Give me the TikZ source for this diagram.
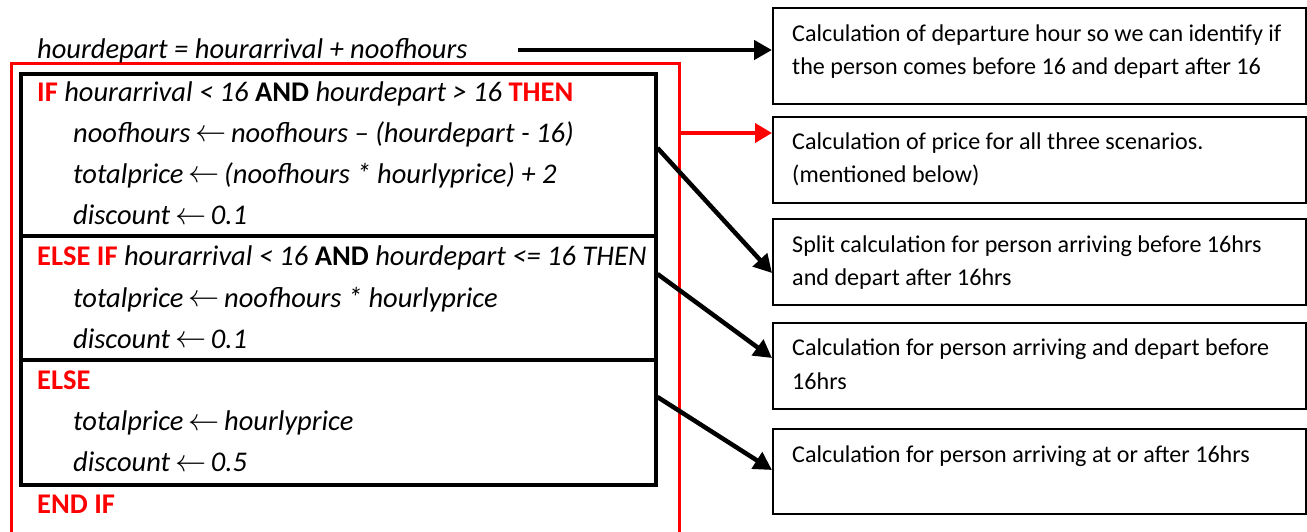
\documentclass[tikz,border=0pt]{standalone}
\usepackage{fontspec}
\setmainfont{Carlito}
\usetikzlibrary{arrows.meta}
\definecolor{kred}{RGB}{255,0,0}
\begin{document}
\begin{tikzpicture}[x=1pt,y=-1pt,
  code/.style={anchor=base west,inner sep=0pt,font=\fontsize{28.5}{32}\selectfont\itshape},
  note/.style={anchor=base west,inner sep=0pt,font=\fontsize{24.1}{28}\selectfont},
  lbox/.style={draw=black,line width=3.5pt},
  rbox/.style={draw=black,line width=2pt},
  redframe/.style={draw=kred,line width=3pt},
  blk/.style={draw=black,line width=4.5pt,-{Triangle[length=18pt,width=19pt]}},
  redarr/.style={draw=kred,line width=4pt,-{Triangle[length=17pt,width=19pt]}}]
\newcommand{\KW}[1]{{\upshape\bfseries\color{kred}#1}}
\newcommand{\BK}[1]{{\upshape\bfseries #1}}
\newcommand{\la}{\,\raisebox{0.5pt}{\scalebox{1.25}{$\leftarrow$}}\,}
\useasboundingbox (0,0) rectangle (1307,531);
\begin{scope}
\clip (0,0) rectangle (1307,531);
% red frame (open at bottom)
\draw[redframe] (11,545) -- (11,63.5) -- (679,63.5) -- (679,545);
\end{scope}
% left black boxes
\node[lbox,anchor=north west,minimum width=635pt,minimum height=162pt,inner sep=0pt] (lb1) at (19,72) {};
\node[lbox,anchor=north west,minimum width=635pt,minimum height=124pt,inner sep=0pt] (lb2) at (19,234) {};
\node[lbox,anchor=north west,minimum width=635pt,minimum height=125pt,inner sep=0pt] (lb3) at (19,358) {};
% code text
\node[code] (eq) at (37,58) {hourdepart = hourarrival + noofhours};
\node[code] (l1) at (37,101) {\KW{IF} hourarrival < 16 \BK{AND} hourdepart > 16 \KW{THEN}};
\node[code] (l2) at (73,142.2) {noofhours\la noofhours – (hourdepart - 16)};
\node[code] (l3) at (73,183.4) {totalprice\la (noofhours * hourlyprice) + 2};
\node[code] (l4) at (73,224.6) {discount\la 0.1};
\node[code] (l5) at (37,265.8) {\KW{ELSE IF} hourarrival < 16 \BK{AND} hourdepart <= 16 THEN};
\node[code] (l6) at (73,307) {totalprice\la noofhours * hourlyprice};
\node[code] (l7) at (73,348.2) {discount\la 0.1};
\node[code] (l8) at (37,389.4) {\KW{ELSE}};
\node[code] (l9) at (73,430.6) {totalprice\la hourlyprice};
\node[code] (l10) at (73,471.8) {discount\la 0.5};
\node[code] (l11) at (37,513) {\KW{END IF}};
% right boxes
\node[rbox,anchor=north west,minimum width=533pt,minimum height=96pt,inner sep=0pt] (rb1) at (772,7) {};
\node[rbox,anchor=north west,minimum width=533pt,minimum height=86pt,inner sep=0pt] (rb2) at (772,116) {};
\node[rbox,anchor=north west,minimum width=533pt,minimum height=86pt,inner sep=0pt] (rb3) at (772,218) {};
\node[rbox,anchor=north west,minimum width=533pt,minimum height=86pt,inner sep=0pt] (rb4) at (772,322) {};
\node[rbox,anchor=north west,minimum width=533pt,minimum height=85pt,inner sep=0pt] (rb5) at (772,428) {};
\node[note] (t1a) at (792,41) {Calculation of departure hour so we can identify if};
\node[note] (t1b) at (792,74.5) {the person comes before 16 and depart after 16};
\node[note] (t2a) at (792,149) {Calculation of price for all three scenarios.};
\node[note] (t2b) at (792,182.5) {(mentioned below)};
\node[note] (t3a) at (792,252) {Split calculation for person arriving before 16hrs};
\node[note] (t3b) at (792,285.5) {and depart after 16hrs};
\node[note] (t4a) at (792,355.5) {Calculation for person arriving and depart before};
\node[note] (t4b) at (792,389) {16hrs};
\node[note] (t5a) at (792,462) {Calculation for person arriving at or after 16hrs};
% connectors
\coordinate (eqend) at (518,50);
\coordinate (redout) at (679,133);
\draw[blk] (eqend) -- (eqend -| rb1.west);
\draw[redarr] (redout) -- (redout -| rb2.west);
\draw[blk] (lb1.east |- 0,148) -- (rb3.west |- 0,273);
\draw[blk] (lb2.east |- 0,274) -- (rb4.west |- 0,358);
\draw[blk] (lb3.east |- 0,397) -- (rb5.west |- 0,470);
\end{tikzpicture}
\end{document}
